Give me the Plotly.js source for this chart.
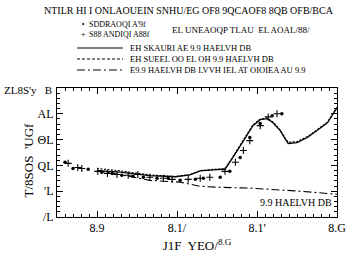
<!DOCTYPE html>
<html><head><meta charset="utf-8">
<script src="https://cdn.plot.ly/plotly-3.0.1.min.js"></script>
<style>html,body{margin:0;padding:0;background:#fff}#c{width:347px;height:265px}</style>
</head><body><div id="c"></div>
<script>
// data
const dotX = [0.60,0.70,0.89,1.06,1.19,1.31,1.45,1.58,1.75,1.89,2.04,2.23,2.33,2.54,2.66,2.79,2.91,3.04,3.19,3.31];
const dotY = [2.12,1.88,1.85,1.73,1.69,1.62,1.58,1.54,1.50,1.50,1.42,1.46,1.50,1.54,1.77,2.31,3.08,3.62,3.92,4.00];
const plusX = [0.64,0.76,0.81,1.01,1.13,1.25,1.39,1.51,1.66,1.83,1.94,2.14,2.29,2.41,2.60,2.73,2.83,2.91,3.04,3.14,3.25];
const plusY = [2.08,1.92,1.88,1.77,1.69,1.65,1.62,1.65,1.54,1.50,1.46,1.46,1.50,1.54,1.77,2.12,2.58,2.96,3.54,3.88,4.00];
const curveX = [1.0,1.29,1.66,1.98,2.16,2.29,2.5,2.6,2.7,2.83,2.95,3.04,3.13,3.2,3.29,3.35,3.39,3.5,3.63,3.75,3.88,4.0];
const solidY = [1.80,1.74,1.60,1.56,1.63,1.79,1.84,1.85,2.31,2.96,3.54,3.77,3.81,3.65,3.35,3.04,2.85,2.88,3.08,3.35,3.65,4.23];
const dashY  = [1.88,1.79,1.63,1.57,1.64,1.80,1.86,1.88,2.35,3.00,3.58,3.80,3.83,3.68,3.38,3.07,2.90,2.92,3.12,3.38,3.68,4.26];
const bgX = [1.0,1.66,2.04,2.29,2.54,2.91,3.54,4.0];
const bgY = [1.81,1.42,1.35,1.19,1.15,1.12,1.00,0.88];
const xTickVals = [1,2,3,4];
const xTickText = ['8.9','8.1/',"8.1'",'8.G'];
const yTickVals = [0,1,2,3,4];
const yTickText = ['/L',"'L",'QL','ΘL','AL'];
const titleText = 'NTILR HI I ONLAOUEIN SNHU/EG OF8 9QCAOF8 8QB OFB/BCA';
const legNames = ["SDDRAOQI A'9f", 'S88 ANDIQI A88f'];
const legShared = 'EL UNEAOQP TLAU  EL AOAL/88/';
const lineNames = ['EH SKAURI AE 9.9 HAELVH DB', 'EH SUEEL OO EL OH 9.9 HAELVH DB', 'E9.9 HAELVH DB LVVH IEL AT OIOIEA AU 9.9'];
const curveLabel = '9.9 HAELVH DB';
const xTitle = 'J1F  YEO/<sup>8.G</sup>';
const yTitle = "T/8SOS  'UGf";
const cornerLabel = "ZL8S'y   B";

const F = 'Liberation Serif, Times New Roman, serif';
const traces = [
  {x: bgX, y: bgY, mode:'lines', line:{color:'#000', width:1.1, dash:'8px,3px,2px,3px'}},
  {x: curveX, y: dashY, mode:'lines', line:{color:'#000', width:1.1, dash:'2px,1.5px'}},
  {x: curveX, y: solidY, mode:'lines', line:{color:'#000', width:1.3}},
  {x: dotX, y: dotY, mode:'markers', marker:{symbol:'circle', size:3.5, color:'#000'}},
  {x: plusX, y: plusY, mode:'markers', marker:{symbol:'cross-thin', size:5, line:{width:1.1, color:'#000'}}}
];
const L = 57, R = 337, T = 88, B = 217;
const px = p => (p - L) / (R - L);
const py = p => (B - p) / (B - T);
const ann = [
  {text: titleText, x: px(189), y: py(10), font:{size:10}},
  {text: '•<br>+', x: px(79), y: py(29.5), font:{size:8}},
  {text: legNames.join('<br>'), x: px(87), y: py(29.5), xanchor:'left', align:'left', font:{size:8}},
  {text: legShared, x: px(170), y: py(30), xanchor:'left', font:{size:9}},
  {text: lineNames.join('<br>'), x: px(128), y: py(59), xanchor:'left', align:'left', font:{size:8.5}},
  {text: curveLabel, xref:'x', yref:'y', x: 3.01, y: 0.58, xanchor:'left', font:{size:10}},
  {text: yTitle, x: px(18), y: py(160), textangle:-90, font:{size:13}},
  {text: cornerLabel, x: px(54), y: py(90), xanchor:'right', font:{size:11}}
].map(a => Object.assign({xref:'paper', yref:'paper', showarrow:false, yanchor:'middle', font:{}}, a))
 .map(a => { a.font = Object.assign({family:F, color:'#000'}, a.font); return a; });
const shapes = [
  {type:'line', xref:'paper', yref:'paper', x0:px(77), x1:px(123), y0:py(48), y1:py(48), line:{color:'#000', width:1.2}},
  {type:'line', xref:'paper', yref:'paper', x0:px(77), x1:px(123), y0:py(59), y1:py(59), line:{color:'#000', width:1, dash:'3px,2px'}},
  {type:'line', xref:'paper', yref:'paper', x0:px(77), x1:px(123), y0:py(70), y1:py(70), line:{color:'#000', width:1, dash:'8px,3px,2px,3px'}}
];
const axBase = {showgrid:false, zeroline:false, showline:true, linecolor:'#000', linewidth:1, mirror:'ticks',
  ticks:'inside', ticklen:6, tickwidth:1, tickcolor:'#000', tickfont:{family:F, size:12, color:'#000'}};
const layout = {
  width:347, height:265, margin:{l:L, r:347-R, t:T, b:265-B}, showlegend:false,
  paper_bgcolor:'#fff', plot_bgcolor:'#fff', font:{family:F, color:'#000'},
  xaxis: Object.assign({}, axBase, {range:[0.5,4.0], tickvals:xTickVals, ticktext:xTickText,
     minor:{dtick:0.1, ticks:'inside', ticklen:3, tickcolor:'#000'},
     title:{text:xTitle, font:{family:F, size:13}, standoff:6}}),
  yaxis: Object.assign({}, axBase, {range:[0,5], tickvals:yTickVals, ticktext:yTickText,
     minor:{dtick:0.2, ticks:'inside', ticklen:3, tickcolor:'#000'}}),
  annotations: ann, shapes: shapes
};
Plotly.newPlot('c', traces, layout, {staticPlot:true, displayModeBar:false});
</script></body></html>
